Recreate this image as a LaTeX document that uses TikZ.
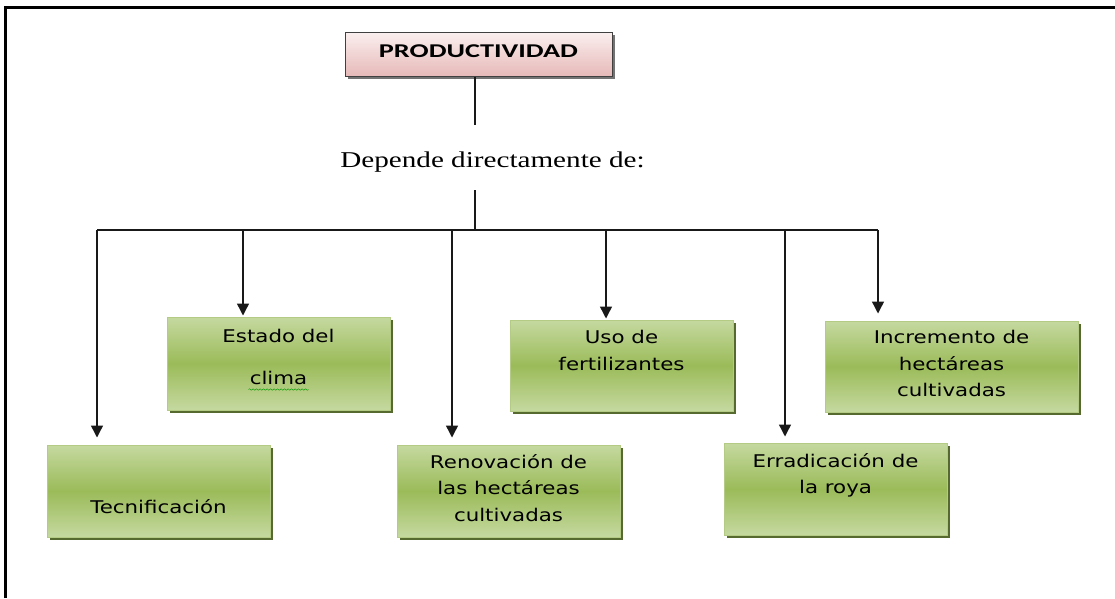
\documentclass[tikz,border=0pt]{standalone}
\usepackage{fontspec}
\usepackage{tikz}
\usetikzlibrary{arrows.meta,shadows,decorations.pathmorphing}
\newfontfamily\cajafont[FakeStretch=1.22]{DejaVu Sans}
\newfontfamily\titulofont[FakeStretch=1.45]{Carlito}
\newfontfamily\dependefont[FakeStretch=1.29]{Liberation Serif}
\definecolor{verdeclaro}{HTML}{C5D9A0}
\definecolor{verde}{HTML}{9BBB59}
\definecolor{bordeverde}{HTML}{B3CB84}
\definecolor{sombraverde}{HTML}{56692F}
\definecolor{rosa}{HTML}{E6B9B8}
\definecolor{rosaclaro}{HTML}{FBEFEF}

\begin{document}
\begin{tikzpicture}[x=1pt, y=-1pt,
  caja/.style={draw=bordeverde, line width=1pt, rectangle, minimum width=223pt, minimum height=92pt, top color=verdeclaro, bottom color=verdeclaro, middle color=verde, drop shadow={shadow xshift=3pt, shadow yshift=-3pt, opacity=1, fill=sombraverde}},
  texto/.style={anchor=north, inner sep=0pt, align=center, font=\cajafont\fontsize{17.5}{26.5}\selectfont},
  linea/.style={draw=black!90, line width=1.4pt},
  flecha/.style={linea, -{Triangle[length=12pt,width=12pt]}}]
\useasboundingbox (0,0) rectangle (1115,598);
% Marco
\draw[line width=3.5pt] (5.5,598) -- (5.5,7.5) -- (1115,7.5);
% Productividad
\node[draw=black!75, line width=1pt, rectangle, minimum width=267pt, minimum height=44pt, text depth=5pt, top color=rosaclaro, bottom color=rosa, drop shadow={shadow xshift=3pt, shadow yshift=-3pt, opacity=1, fill=black!55}, font=\titulofont\bfseries\fontsize{19.5}{22}\selectfont] (prod) at (478.5,54) {PRODUCTIVIDAD};
% Depende
\node[anchor=base, inner sep=0pt, font=\dependefont\fontsize{22.6}{26}\selectfont] (dep) at (492.5,167) {Depende directamente de:};
% Cajas
\node[caja, label={[texto, yshift=-54.7pt]north:Tecnificación}] (tecn) at (158.5,491) {};
\node[caja, minimum height=93pt, label={[texto, yshift=-12.7pt]north:{Estado del\\[15.5pt]clima}}] (estado) at (278.5,363.5) {};
\node[caja, label={[texto, yshift=-9.7pt]north:{Renovación de\\las hectáreas\\cultivadas}}] (renov) at (508.5,491) {};
\node[caja, minimum height=91pt, label={[texto, yshift=-10.7pt]north:{Uso de\\fertilizantes}}] (uso) at (621.5,365.5) {};
\node[caja, label={[texto, yshift=-10.7pt]north:{Erradicación de\\la roya}}] (errad) at (835.5,489) {};
\node[caja, minimum width=253pt, minimum height=91pt, label={[texto, yshift=-9.7pt]north:{Incremento de\\hectáreas\\cultivadas}}] (incr) at (951.5,366.5) {};
% subrayado
\draw[green!60!black, decorate, decoration={snake, amplitude=0.8pt, segment length=3.5pt}] ([xshift=-30pt,yshift=21pt]estado.south) -- ([xshift=30pt,yshift=21pt]estado.south);
% Tronco
\coordinate (t1) at (475,125);
\coordinate (t2) at (475,190);
\coordinate (t3) at (475,230);
\draw[linea] (prod.south -| t1) -- (t1);
\draw[linea] (t2) -- (t3);
% Barra
\coordinate (b1) at (97,230);
\coordinate (b2) at (243,230);
\coordinate (b3) at (452,230);
\coordinate (b4) at (606,230);
\coordinate (b5) at (785,230);
\coordinate (b6) at (878,230);
\draw[linea] (b1) -- (b6);
% Flechas
\draw[flecha, shorten >=7pt] (b1) -- (b1 |- tecn.north);
\draw[flecha, shorten >=1pt] (b2) -- (b2 |- estado.north);
\draw[flecha, shorten >=7pt] (b3) -- (b3 |- renov.north);
\draw[flecha, shorten >=1pt] (b4) -- (b4 |- uso.north);
\draw[flecha, shorten >=6pt] (b5) -- (b5 |- errad.north);
\draw[flecha, shorten >=7pt] (b6) -- (b6 |- incr.north);
\end{tikzpicture}
\end{document}
